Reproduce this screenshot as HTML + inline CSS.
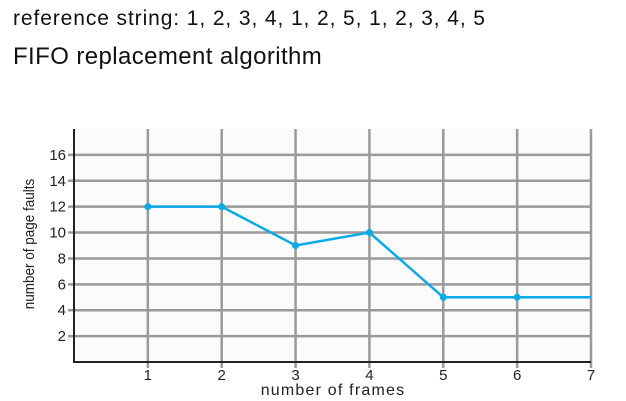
<!DOCTYPE html>
<html><head><meta charset="utf-8"><style>
body{margin:0;background:#fff;width:626px;height:401px;overflow:hidden;font-family:"Liberation Sans",sans-serif}
.t{position:absolute;left:13px;color:#111;white-space:nowrap}
</style></head><body>
<div class="t" style="top:7px;font-size:21px;letter-spacing:0.9px">reference string: 1, 2, 3, 4, 1, 2, 5, 1, 2, 3, 4, 5</div>
<div class="t" style="top:43px;font-size:24px;letter-spacing:0.4px">FIFO replacement algorithm</div>
<svg id="c" width="626" height="401" style="position:absolute;left:0;top:0"></svg>
<script>
const frames=[1,2,3,4,5,6,7];
const faults=[12,12,9,10,5,5,5];
const markerFrames=[1,2,3,4,5,6];
const yTicks=[2,4,6,8,10,12,14,16];
const xTicks=[1,2,3,4,5,6,7];
const L=74,R=591,T=129,B=362;
const sx=v=>L+v*(R-L)/7;
const sy=v=>B-v*(B-T)/18;
const s=document.getElementById('c');const ns='http://www.w3.org/2000/svg';
function mk(tag,a,txt){const e=document.createElementNS(ns,tag);for(const k in a)e.setAttribute(k,a[k]);if(txt!=null)e.textContent=txt;s.appendChild(e);return e;}
let bg=mk('rect',{x:L,y:T,width:R-L,height:B-T,fill:'#fbfbfb'});


yTicks.forEach(v=>{
 let g=mk('line',{x1:L-6,x2:R,y1:sy(v),y2:sy(v),stroke:'#9a9a9a','stroke-width':2.5});
 
 
 let t=mk('text',{x:L-8,y:sy(v)+5,'text-anchor':'end','font-size':15,fill:'#222'},v);
 
 
});
xTicks.forEach(v=>{
 let g=mk('line',{x1:sx(v),x2:sx(v),y1:T,y2:B+6,stroke:'#9a9a9a','stroke-width':2.5});
 
 
 let t=mk('text',{x:sx(v),y:B+18,'text-anchor':'middle','font-size':15,fill:'#222'},v);
 
 
});
let ax=mk('polyline',{points:`${L},${T} ${L},${B} ${R},${B}`,fill:'none',stroke:'#222','stroke-width':2});


let ln=mk('polyline',{points:frames.map((f,i)=>sx(f)+','+sy(faults[i])).join(' '),fill:'none',stroke:'#0aa9e8','stroke-width':2.5});


markerFrames.forEach(f=>{
 const i=frames.indexOf(f);
 let c=mk('circle',{cx:sx(f),cy:sy(faults[i]),r:3.5,fill:'#0aa9e8'});
 
 
});
let xt=mk('text',{x:333,y:395,'text-anchor':'middle','font-size':16,'letter-spacing':'1.2',fill:'#222'},'number of frames');


let yt=mk('text',{x:0,y:0,'text-anchor':'middle','font-size':15,fill:'#222',transform:'translate(34,244) rotate(-90) scale(0.9,1)'},'number of page faults');


</script>
</body></html>
